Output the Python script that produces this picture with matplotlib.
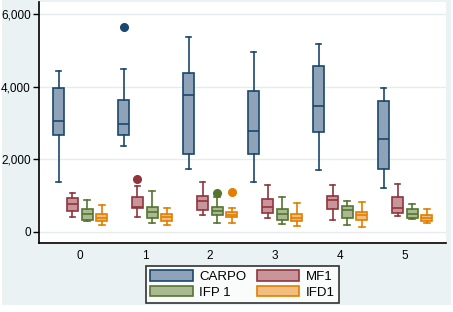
import numpy as np
import matplotlib
matplotlib.use('Agg')
import matplotlib.pyplot as plt
from matplotlib.patches import Rectangle, Patch

plt.rcParams['font.family'] = ['Liberation Sans', 'DejaVu Sans']

# %% data
groups = [0, 1, 2, 3, 4, 5]
series = ['CARPO', 'MF1', 'IFP 1', 'IFD1']

# per group: [whislo, q1, med, q3, whishi]
carpo = [[1367, 2661, 3046, 3954, 4431],
         [2367, 2661, 2972, 3633, 4477],
         [1725, 2138, 3761, 4367, 5358],
         [1385, 2138, 2771, 3872, 4962],
         [1697, 2743, 3459, 4560, 5165],
         [1202, 1725, 2551, 3596, 3954]]
mf1 = [[404, 578, 770, 927, 1065],
       [404, 651, 697, 955, 1258],
       [459, 615, 845, 982, 1385],
       [377, 514, 679, 899, 1285],
       [330, 624, 872, 982, 1285],
       [431, 514, 651, 955, 1312]]
ifp1 = [[303, 330, 487, 625, 872],
        [239, 376, 541, 679, 1120],
        [239, 459, 578, 679, 972],
        [211, 321, 505, 624, 972],
        [184, 377, 596, 706, 844],
        [349, 377, 487, 624, 761]]
ifd1 = [[184, 294, 377, 487, 734],
        [184, 312, 404, 495, 669],
        [239, 404, 459, 541, 669],
        [156, 294, 377, 487, 789],
        [129, 321, 459, 541, 817],
        [239, 294, 377, 459, 624]]
# outliers per group
carpo_out = {1: [5650]}
mf1_out = {1: [1458]}
ifp1_out = {2: [1073]}
ifd1_out = {2: [1101]}

yticks = [0, 2000, 4000, 6000]

# %% style
edge = ['#1a476f', '#90353b', '#55752f', '#e37e00']
fill = ['#8ea3b8', '#c8959b', '#a9ba92', '#f2be7f']
offsets = [-0.33, -0.115, 0.11, 0.335]
bw = 0.17

fig = plt.figure(figsize=(4.53, 3.12), dpi=100, facecolor='white')
fig.patches.append(Rectangle((2/453, 7/312), 449/453, 305/312, transform=fig.transFigure,
                             facecolor='#eaf2f3', edgecolor='none', zorder=-10))
ax = fig.add_axes([39/453, 69/312, 407/453, 241/312])
ax.set_facecolor('white')

all_data = [carpo, mf1, ifp1, ifd1]
all_out = [carpo_out, mf1_out, ifp1_out, ifd1_out]
for k in range(4):
    stats = []
    for g in groups:
        lo, q1, med, q3, hi = all_data[k][g]
        stats.append(dict(whislo=lo, q1=q1, med=med, q3=q3, whishi=hi,
                          fliers=all_out[k].get(g, [])))
    pos = [g + offsets[k] for g in groups]
    ax.bxp(stats, positions=pos, widths=bw, capwidths=0.085, patch_artist=True,
           manage_ticks=False,
           boxprops=dict(facecolor=fill[k], edgecolor=edge[k], linewidth=1.2),
           medianprops=dict(color=edge[k], linewidth=1.2),
           whiskerprops=dict(color=edge[k], linewidth=1.2),
           capprops=dict(color=edge[k], linewidth=1.2),
           flierprops=dict(marker='o', markerfacecolor=edge[k], markeredgecolor=edge[k],
                           markersize=5.5))

ax.set_xlim(-0.63, 5.63)
ax.set_ylim(-303, 6330)
ax.set_yticks(yticks)
ax.set_yticklabels([f'{v:,}' for v in yticks])
ax.set_xticks(groups)
ax.set_xticklabels([str(g) for g in groups])
ax.tick_params(axis='y', length=4, width=1, labelsize=8.5, pad=2)
ax.tick_params(axis='x', length=0, labelsize=8.5, pad=5)
ax.grid(axis='y', color='#e6eced', linewidth=1)
ax.set_axisbelow(True)
for s in ['top', 'right']:
    ax.spines[s].set_visible(False)
for s in ['left', 'bottom']:
    ax.spines[s].set_linewidth(1.2)
    ax.spines[s].set_color('black')

handles = [Patch(facecolor=fill[k], edgecolor=edge[k], linewidth=1.2) for k in range(4)]
order = [0, 2, 1, 3]
leg = fig.legend([handles[i] for i in order], [series[i] for i in order], ncol=2,
                 loc='center', bbox_to_anchor=(242.5/453, 27.5/312), fontsize=9.5,
                 frameon=True, fancybox=False, edgecolor='black', handlelength=3.2,
                 handleheight=0.85, columnspacing=0.8, handletextpad=0.5,
                 labelspacing=0.2, borderpad=0.3, borderaxespad=0)
leg.get_frame().set_linewidth(1.2)

fig.savefig('out.png', dpi=100, facecolor='white')
